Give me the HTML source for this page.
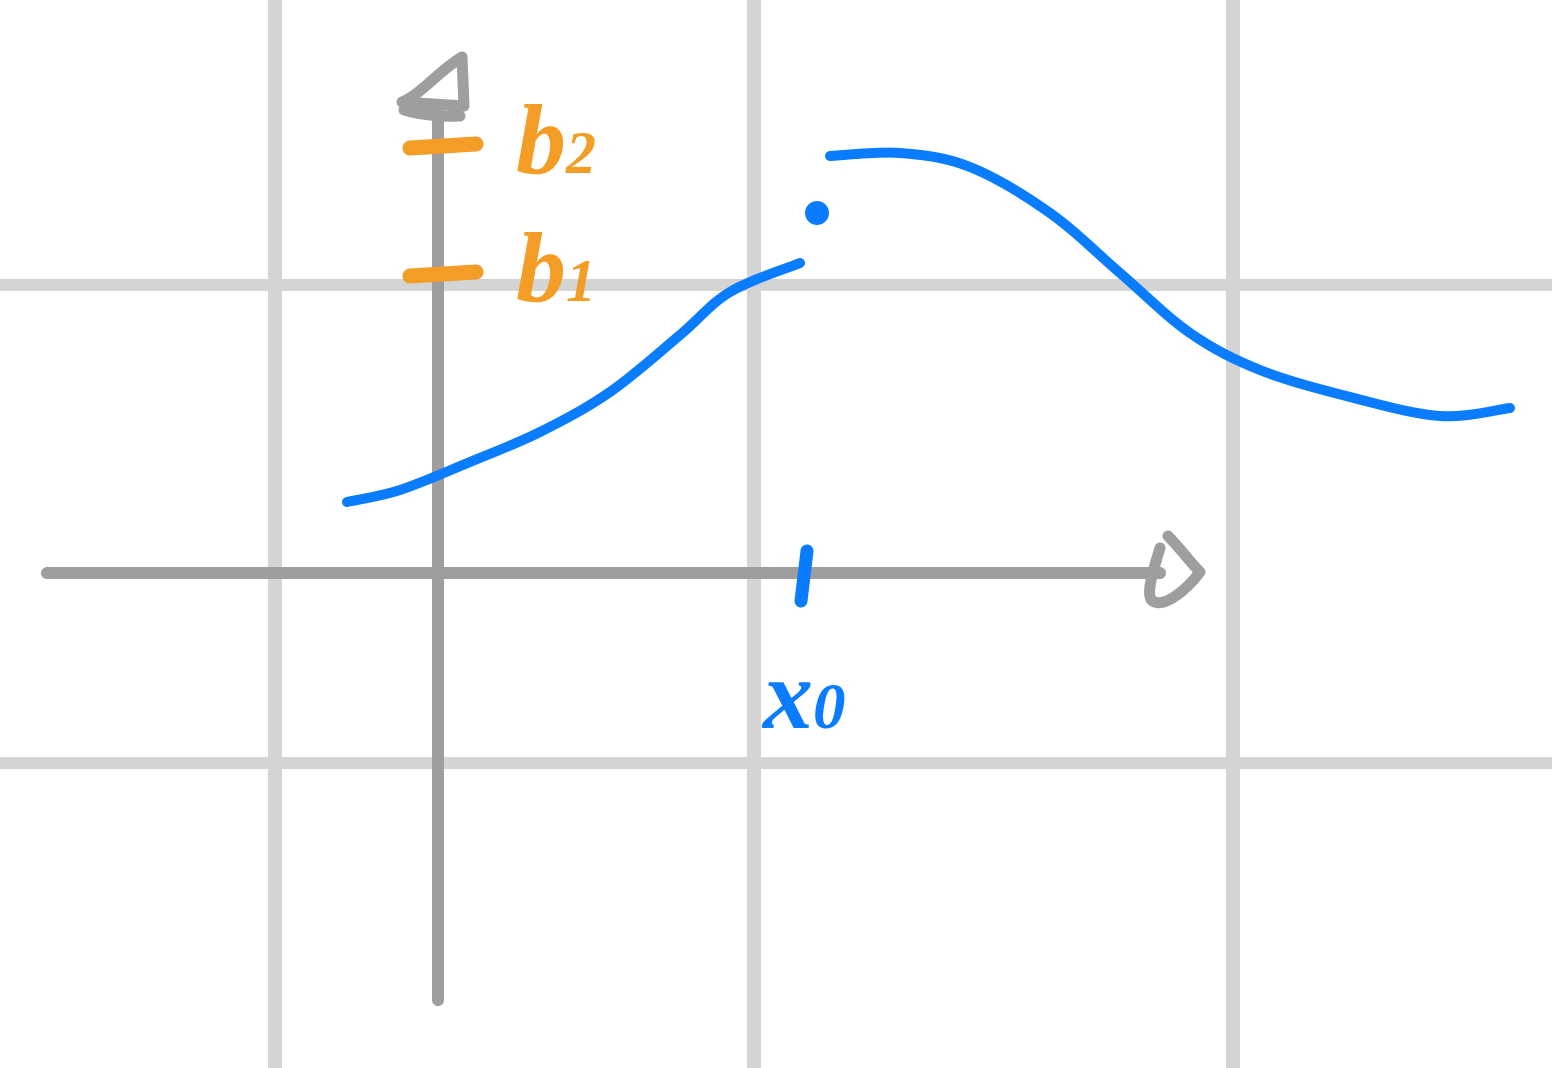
<!DOCTYPE html>
<html><head><meta charset="utf-8"><style>
html,body{margin:0;padding:0;background:#fff;}
svg{display:block;}
</style></head><body>
<svg id="chart" width="1552" height="1068" viewBox="0 0 1552 1068" xmlns="http://www.w3.org/2000/svg">
<g id="grid"></g>
<g id="axes"></g>
<g id="marks"></g>
<g id="labels"></g>
</svg>
<script>
const leftX = [-0.91,-0.38,0.32,1.02,1.72,2.42,2.92,3.62];
const leftY = [0.71,0.83,1.11,1.41,1.81,2.38,2.81,3.10];
const rightX = [3.92,4.62,5.32,6.12,6.82,7.52,8.22,9.12,10.02,10.72];
const rightY = [4.17,4.20,4.06,3.60,3.00,2.40,2.03,1.76,1.57,1.65];
const dotX = [3.79];
const dotY = [3.60];
const yTickValues = [3.0, 4.28];
const yTickLabels = ['b1','b2'];
const xTickValues = [3.67];
const xTickLabels = ['x0'];

const ox = 438, oy = 573, unit = 100;
function xScale(v){return ox + v*unit;}
function yScale(v){return oy - v*unit;}
const NS='http://www.w3.org/2000/svg';
function mk(tag, attrs, parent){const e=document.createElementNS(NS,tag);for(const k in attrs)e.setAttribute(k,attrs[k]);parent.appendChild(e);return e;}

const grid=document.getElementById('grid');
[275,754,1233].forEach(x=>{const l=mk('line',{x1:x,y1:0,x2:x,y2:1068,stroke:'#d4d4d4','stroke-width':14},grid);

});
[285,763].forEach(y=>{const l=mk('line',{x1:0,y1:y,x2:1552,y2:y,stroke:'#d4d4d4','stroke-width':12},grid);

});

const axes=document.getElementById('axes');
const ya=mk('line',{x1:ox,y1:1000,x2:ox,y2:112,stroke:'#9e9e9e','stroke-width':12,'stroke-linecap':'round'},axes);


const yh=mk('path',{d:'M402,102 C420,95 440,70 462,57 L464,106 Z M404,110 C420,115 445,117 460,116',fill:'none',stroke:'#9e9e9e','stroke-width':11,'stroke-linejoin':'round','stroke-linecap':'round'},axes);


const xa=mk('line',{x1:47,y1:oy,x2:1160,y2:oy,stroke:'#9e9e9e','stroke-width':12,'stroke-linecap':'round'},axes);


const xh=mk('path',{d:'M1168,536 C1180,548 1190,562 1200,572 C1185,592 1165,606 1155,602 C1145,600 1150,580 1160,548',fill:'none',stroke:'#9e9e9e','stroke-width':11,'stroke-linejoin':'round','stroke-linecap':'round'},axes);



function smooth(xs,ys){
  const p=xs.map((x,i)=>[xScale(x),yScale(ys[i])]);
  let d='M'+p[0][0]+','+p[0][1];
  for(let i=0;i<p.length-1;i++){
    const p0=p[Math.max(0,i-1)],p1=p[i],p2=p[i+1],p3=p[Math.min(p.length-1,i+2)];
    const c1=[p1[0]+(p2[0]-p0[0])/6,p1[1]+(p2[1]-p0[1])/6];
    const c2=[p2[0]-(p3[0]-p1[0])/6,p2[1]-(p3[1]-p1[1])/6];
    d+=` C${c1[0]},${c1[1]} ${c2[0]},${c2[1]} ${p2[0]},${p2[1]}`;
  }
  return d;
}
const marks=document.getElementById('marks');
const l1=mk('path',{d:smooth(leftX,leftY),fill:'none',stroke:'#0a7cff','stroke-width':10,'stroke-linecap':'round'},marks);


const l2=mk('path',{d:smooth(rightX,rightY),fill:'none',stroke:'#0a7cff','stroke-width':10,'stroke-linecap':'round'},marks);


dotX.forEach((x,i)=>{const c=mk('circle',{cx:xScale(x),cy:yScale(dotY[i]),r:12,fill:'#0a7cff'},marks);

});

const labels=document.getElementById('labels');
yTickValues.forEach((v,i)=>{
  const y=yScale(v);
  const t=mk('line',{x1:ox-28,y1:y+3,x2:ox+38,y2:y-1,stroke:'#f39c26','stroke-width':15,'stroke-linecap':'round'},labels);
  
  
  const tx=mk('text',{x:ox+78,y:y+28,fill:'#f39c26','font-family':'Liberation Serif, serif','font-style':'italic','font-weight':'bold','font-size':100},labels);
  tx.textContent=yTickLabels[i][0];
  const sub=mk('tspan',{'font-size':60},tx);sub.textContent=yTickLabels[i].slice(1);
  
  
});
xTickValues.forEach((v,i)=>{
  const x=xScale(v);
  const t=mk('line',{x1:x+2,y1:oy-22,x2:x-4,y2:oy+28,stroke:'#0a7cff','stroke-width':13,'stroke-linecap':'round'},labels);
  
  
  const tx=mk('text',{x:x-42,y:oy+155,fill:'#0a7cff','font-family':'Liberation Serif, serif','font-style':'italic','font-weight':'bold','font-size':100},labels);
  tx.textContent=xTickLabels[i][0];
  const sub=mk('tspan',{'font-size':65},tx);sub.textContent=xTickLabels[i].slice(1);
  
  
});
</script>
</body></html>
